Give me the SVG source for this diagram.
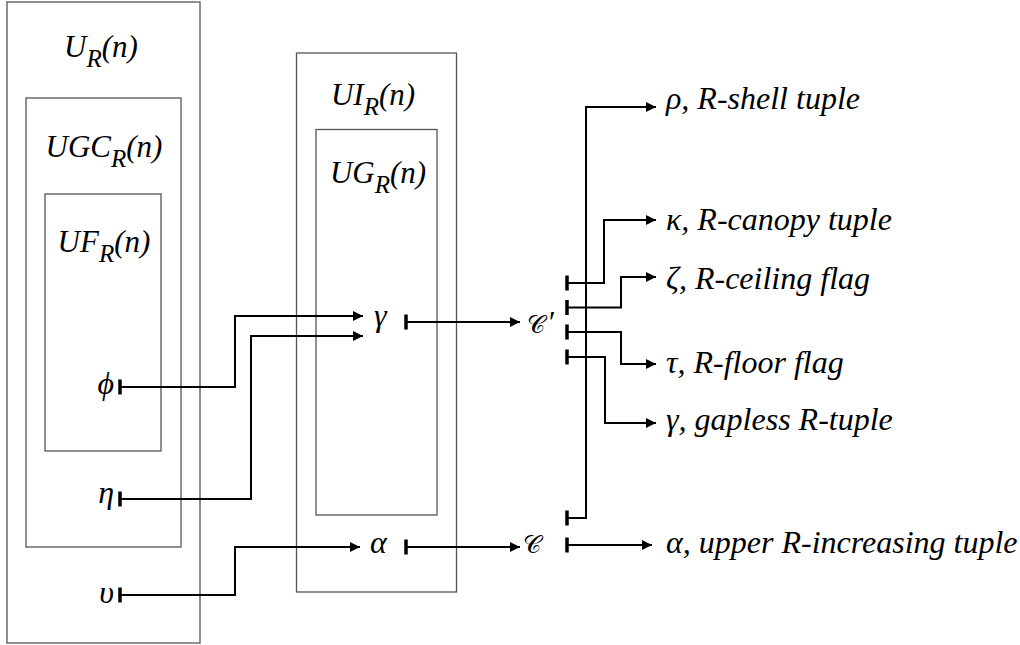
<svg xmlns="http://www.w3.org/2000/svg" width="1020" height="645" viewBox="0 0 1020 645">
<defs>
<marker id="arr" viewBox="0 0 10 10" refX="10" refY="5" markerWidth="10" markerHeight="10" markerUnits="userSpaceOnUse" orient="auto">
<path d="M0,0 L10,5 L0,10 Z" fill="#000"/>
</marker>
<style>
.box{fill:none;stroke:#555;stroke-width:1.3}
.t{font-family:"Liberation Serif","Times New Roman",serif;font-style:italic;font-size:31px;fill:#000}
.o{font-size:32px}
.sub{font-size:25px}
.cal{font-family:"DejaVu Serif",serif;font-style:normal;font-size:25px}
.c{fill:none;stroke:#000;stroke-width:2}
.a{marker-end:url(#arr)}
.tee{stroke:#000;stroke-width:3.5}
</style>
</defs>
<rect width="1020" height="645" fill="#fff"/>
<g id="U">
<rect class="box" x="7" y="2" width="193" height="641"/>
<text class="t" x="101" y="57" text-anchor="middle">U<tspan class="sub" dy="10">R</tspan><tspan dy="-10">(n)</tspan></text>
</g>
<g id="UGC">
<rect class="box" x="26" y="98" width="155" height="449"/>
<text class="t" x="104" y="157" text-anchor="middle">UGC<tspan class="sub" dy="10">R</tspan><tspan dy="-10">(n)</tspan></text>
</g>
<g id="UF">
<rect class="box" x="45" y="194" width="116" height="257"/>
<text class="t" x="104" y="252" text-anchor="middle">UF<tspan class="sub" dy="10">R</tspan><tspan dy="-10">(n)</tspan></text>
</g>
<g id="UI">
<rect class="box" x="296.5" y="53" width="160" height="539"/>
<text class="t" x="373" y="105" text-anchor="middle">UI<tspan class="sub" dy="10">R</tspan><tspan dy="-10">(n)</tspan></text>
</g>
<g id="UG">
<rect class="box" x="316" y="129.5" width="121" height="385.5"/>
<text class="t" x="378" y="183" text-anchor="middle">UG<tspan class="sub" dy="10">R</tspan><tspan dy="-10">(n)</tspan></text>
</g>
<g id="phi"><text class="t o" x="114" y="394" text-anchor="end">ϕ</text></g>
<g id="eta"><text class="t o" x="114" y="503" text-anchor="end">η</text></g>
<g id="upsilon"><text class="t o" x="114" y="603" text-anchor="end">υ</text></g>
<g id="gamma"><text class="t o" x="374" y="326">γ</text></g>
<g id="alpha"><text class="t o" x="370" y="553">α</text></g>
<g id="Cprime"><text class="t" x="527" y="333"><tspan class="cal">𝒞</tspan><tspan dx="2">′</tspan></text></g>
<g id="C"><text class="t cal" x="523" y="553">𝒞</text></g>
<g id="out-rho"><text class="t o" x="666" y="109">ρ, R-shell tuple</text></g>
<g id="out-kappa"><text class="t o" x="666" y="230">κ, R-canopy tuple</text></g>
<g id="out-zeta"><text class="t o" x="666" y="289">ζ, R-ceiling flag</text></g>
<g id="out-tau"><text class="t o" x="666" y="373">τ, R-floor flag</text></g>
<g id="out-gamma"><text class="t o" x="666" y="430">γ, gapless R-tuple</text></g>
<g id="out-alpha"><text class="t o" x="666" y="553">α, upper R-increasing tuple</text></g>
<g id="connectors">
<path class="c a" d="M120,387 H235 V316 H363"/>
<path class="c a" d="M120,499 H251 V336 H363"/>
<path class="c a" d="M120,595 H235 V547 H360"/>
<path class="c a" d="M406,322 H520"/>
<path class="c a" d="M406,547 H520"/>
<path class="c a" d="M567,283 H604 V220 H656"/>
<path class="c a" d="M567,307.5 H621 V277 H656"/>
<path class="c a" d="M567,332 H621 V364 H656"/>
<path class="c a" d="M567,357 H605 V423 H656"/>
<path class="c a" d="M567,518 H586 V107 H656"/>
<path class="c a" d="M567,545 H652"/>
<path class="tee" d="M120,379.5 V394.5 M120,491.5 V506.5 M120,587.5 V602.5 M406,314.5 V329.5 M406,539.5 V554.5 M567,275.5 V290.5 M567,300 V315 M567,324.5 V339.5 M567,349.5 V364.5 M567,510.5 V525.5 M567,537.5 V552.5"/>
</g>
</svg>
